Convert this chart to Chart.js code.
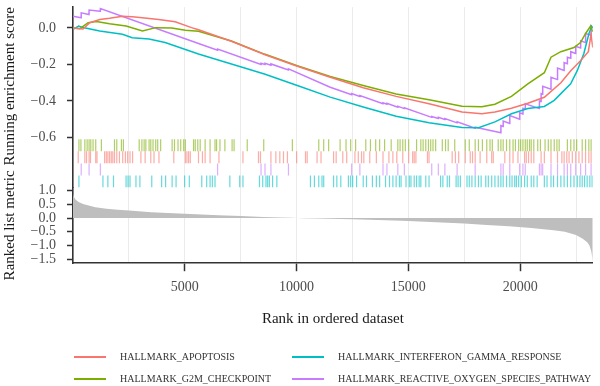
<!DOCTYPE html>
<html>
<head>
<meta charset="utf-8">
<script src="https://cdn.jsdelivr.net/npm/chart.js@4/dist/chart.umd.min.js"></script>
<style>
body { margin: 0; background: #fff; }
#wrap { position: relative; width: 600px; height: 386px; font-family: "Liberation Serif", serif; }
#legend .item { position: absolute; height: 12px; line-height: 12px; display: flex; align-items: center; font-size: 10px; color: #333; white-space: nowrap; }
#legend .swatch { width: 32px; height: 2px; margin-right: 14px; }
</style>
</head>
<body>
<div id="wrap">
<canvas id="gsea" width="600" height="386"></canvas>
<div id="legend"></div>
</div>
<script>
// x range and ticks
const xMax = 23250;
const gridRanks = [2500, 5000, 7500, 10000, 12500, 15000, 17500, 20000, 22500];
const esTicks = [0, -0.2, -0.4, -0.6];
const metricTicks = [1, 0.5, 0, -0.5, -1, -1.5];

// gene sets (alphabetical, like the legend)
const setNames = ["HALLMARK_APOPTOSIS", "HALLMARK_G2M_CHECKPOINT", "HALLMARK_INTERFERON_GAMMA_RESPONSE", "HALLMARK_REACTIVE_OXYGEN_SPECIES_PATHWAY"];
const setColors = ["#F8766D", "#7CAE00", "#00BFC4", "#C77CFF"];
const rugRow = [1, 0, 3, 2];

// running enrichment score
const apoptosisRanks = [0, 450, 750, 1200, 1635, 2210, 2650, 3100, 3830, 4570, 5300, 5613, 7085, 8561, 10033, 11505, 12981, 14453, 15925, 17402, 18286, 18873, 19611, 20345, 21083, 21822, 22264, 22700, 23050, 23170, 23250];
const apoptosisES = [0.0, -0.006, 0.029, 0.047, 0.053, 0.065, 0.061, 0.056, 0.047, 0.034, 0.002, -0.01, -0.073, -0.145, -0.21, -0.27, -0.328, -0.375, -0.415, -0.46, -0.47, -0.46, -0.44, -0.413, -0.38, -0.3, -0.234, -0.18, -0.13, -0.035, -0.107];

const g2mRanks = [0, 310, 676, 1048, 1635, 2374, 3107, 3700, 4420, 5026, 5613, 7085, 8561, 10033, 11505, 12981, 14453, 15925, 17402, 18286, 18873, 19611, 20345, 21083, 21380, 21820, 22409, 22700, 22930, 23150, 23250];
const g2mES = [0.0, -0.004, 0.029, 0.036, 0.023, 0.011, -0.016, 0.002, 0.0, -0.013, -0.018, -0.071, -0.143, -0.207, -0.266, -0.315, -0.362, -0.393, -0.429, -0.432, -0.418, -0.375, -0.306, -0.245, -0.16, -0.13, -0.107, -0.08, -0.03, 0.01, -0.02];

const ifngRanks = [0, 250, 400, 1195, 2210, 2650, 3400, 4120, 5613, 7085, 8561, 10033, 11505, 12981, 14453, 15925, 17402, 18140, 18873, 19611, 20345, 21083, 21525, 21822, 22260, 22555, 22850, 23072, 23200, 23250];
const ifngES = [-0.007, 0.011, 0.004, -0.016, -0.034, -0.053, -0.061, -0.08, -0.143, -0.197, -0.252, -0.315, -0.379, -0.433, -0.484, -0.52, -0.545, -0.547, -0.515, -0.47, -0.442, -0.43, -0.397, -0.36, -0.306, -0.234, -0.14, -0.033, 0.01, 0.0];

const rosRanks = [0, 360, 367, 715, 720, 1215, 1224, 5613, 6467, 6468, 8411, 8412, 8588, 8589, 8853, 8854, 9636, 9637, 11505, 12464, 12465, 12831, 12832, 13866, 13867, 14042, 14043, 14529, 14530, 14821, 14822, 16045, 16046, 16341, 16342, 16633, 16634, 17181, 17182, 17989, 17990, 19139, 19140, 19241, 19242, 19536, 19537, 19978, 19979, 20125, 20126, 20230, 20231, 20862, 20863, 20938, 20939, 21008, 21009, 21380, 21381, 21672, 21673, 21967, 21968, 22113, 22114, 22264, 22265, 22485, 22486, 22706, 22707, 22927, 22928, 23174, 23175, 23250];
const rosES = [0.065, 0.056, 0.083, 0.074, 0.098, 0.092, 0.107, -0.085, -0.122, -0.115, -0.2, -0.193, -0.2, -0.193, -0.204, -0.197, -0.23, -0.224, -0.325, -0.366, -0.36, -0.376, -0.37, -0.415, -0.41, -0.418, -0.413, -0.434, -0.429, -0.442, -0.437, -0.49, -0.485, -0.496, -0.49, -0.502, -0.496, -0.52, -0.514, -0.55, -0.544, -0.574, -0.535, -0.54, -0.51, -0.523, -0.48, -0.5, -0.465, -0.471, -0.44, -0.445, -0.415, -0.442, -0.4, -0.403, -0.36, -0.363, -0.32, -0.336, -0.27, -0.283, -0.22, -0.233, -0.19, -0.196, -0.16, -0.166, -0.13, -0.14, -0.1, -0.11, -0.07, -0.08, -0.03, -0.04, 0.011, 0.0];

// positions of the genes of each set in the ranked list
const apoptosisHits = [234, 530, 606, 720, 782, 1017, 1074, 1414, 1490, 1560, 1635, 1711, 1781, 1856, 1958, 2077, 2223, 2343, 2444, 2550, 2665, 3037, 3227, 3479, 3624, 3845, 4508, 5026, 5096, 5171, 5247, 5613, 5790, 5910, 6131, 6528, 7602, 8296, 8385, 8853, 9074, 9251, 9415, 9591, 10003, 10400, 10475, 10917, 11094, 11656, 11771, 12067, 12243, 12610, 12761, 12906, 13008, 13273, 13569, 13866, 14131, 14308, 14484, 14750, 15015, 15192, 15262, 15337, 15855, 15925, 16960, 17105, 17251, 17547, 17768, 17870, 17989, 18210, 18507, 18728, 18798, 19315, 19536, 19683, 19903, 20199, 20274, 20376, 20496, 20611, 20938, 21083, 21380, 21672, 21866, 21967, 22087, 22188, 22334, 22485, 22630, 22776, 22927, 23072, 23174];
const g2mHits = [265, 354, 530, 632, 720, 796, 897, 1017, 1269, 1856, 1958, 2166, 2254, 2961, 3081, 3182, 3258, 3403, 3479, 3580, 3700, 3788, 3921, 4433, 4539, 4698, 4818, 4950, 5026, 5392, 5468, 5582, 5689, 5910, 6131, 6352, 6422, 6573, 6794, 7116, 7205, 7793, 8531, 9812, 10993, 11214, 11435, 11947, 12212, 12420, 12641, 13096, 13304, 13539, 13715, 13937, 14232, 14529, 14630, 14750, 14865, 15015, 15368, 15558, 15660, 15779, 15899, 16000, 16102, 16221, 16518, 16663, 16783, 17074, 17547, 17724, 17989, 18135, 18312, 18507, 18652, 18755, 19019, 19139, 19241, 19391, 19536, 19683, 19789, 19934, 20023, 20125, 20230, 20319, 20420, 20496, 20611, 20787, 20907, 21115, 21260, 21380, 21525, 21645, 21746, 22113, 22264, 22409, 22529, 22776, 22927, 23072, 23174];
const ifngHits = [265, 1339, 1560, 1812, 2374, 2462, 2550, 2816, 2992, 3523, 3965, 4142, 4433, 4610, 4995, 5202, 5759, 5980, 6131, 6232, 6352, 7015, 7457, 7602, 8341, 8486, 8632, 8707, 8783, 8928, 9118, 10621, 10798, 10993, 11138, 11214, 11656, 11801, 11978, 12319, 12420, 12509, 12685, 12982, 13127, 13393, 13569, 13715, 13980, 14157, 14308, 14453, 14600, 14674, 14895, 15041, 15116, 15262, 15368, 15483, 15558, 15779, 15925, 16442, 16544, 16739, 16840, 17136, 17225, 17326, 17623, 17724, 17843, 17989, 18135, 18255, 18462, 18577, 18728, 18873, 19019, 19139, 19241, 19391, 19536, 19638, 19757, 19832, 19934, 20054, 20199, 20319, 20496, 20611, 20761, 21083, 21203, 21380, 21495, 21672, 21822, 21967, 22113, 22264, 22409, 22555, 22675, 22776, 22883, 22997, 23117, 23219];
const rosHits = [367, 720, 1224, 6467, 8411, 8588, 8853, 9636, 12464, 12831, 13866, 14042, 14529, 14821, 16045, 16341, 16633, 17181, 17989, 19139, 19241, 19536, 19978, 20125, 20230, 20862, 20938, 21008, 21380, 21672, 21967, 22113, 22264, 22485, 22706, 22927, 23174];

// ranked list metric
const metricRanks = [0, 40, 120, 250, 450, 700, 1000, 1500, 2000, 2500, 3500, 5000, 6500, 7500, 8500, 9300, 9800, 10300, 11000, 12500, 14000, 15000, 16500, 17500, 18500, 19500, 20500, 21500, 22000, 22500, 22800, 23000, 23100, 23180, 23230, 23250];
const metricValues = [0.88, 0.76, 0.66, 0.58, 0.51, 0.45, 0.39, 0.34, 0.3, 0.27, 0.21, 0.15, 0.1, 0.07, 0.04, 0.02, 0.005, -0.005, -0.015, -0.045, -0.085, -0.11, -0.16, -0.2, -0.25, -0.3, -0.36, -0.44, -0.5, -0.62, -0.75, -0.88, -1.0, -1.2, -1.45, -1.62];

const esRanks = [apoptosisRanks, g2mRanks, ifngRanks, rosRanks];
const esValues = [apoptosisES, g2mES, ifngES, rosES];
const hits = [apoptosisHits, g2mHits, ifngHits, rosHits];

Chart.defaults.font.family = "'Liberation Serif', serif";
Chart.defaults.font.size = 14;
Chart.defaults.color = "#4D4D4D";

function toPoints(ranks, values) {
    return ranks.map((r, i) => ({ x: r, y: values[i] }));
}

function fmt(v) {
    if (v === 0) return "0.0";
    return (v < 0 ? "\u2212" : "") + Math.abs(v).toFixed(1);
}

function withAlpha(hex, a) {
    const n = parseInt(hex.slice(1), 16);
    return `rgba(${(n >> 16) & 255}, ${(n >> 8) & 255}, ${n & 255}, ${a})`;
}

// fixed width for both left axes, and no extra room for the end labels
function fitLeft(s) {
    s.width = 73;
    s.paddingTop = 0;
    s.paddingBottom = 0;
}

// rug rows live under the ES curves, on the same axis
const rugTop = -0.609;
const rugStep = 0.0665;

const datasets = [];
datasets.push({
    type: "line",
    data: toPoints(metricRanks, metricValues),
    yAxisID: "yMetric",
    fill: "origin",
    backgroundColor: "#BEBEBE",
    borderWidth: 0,
    pointRadius: 0
});
setNames.forEach((name, i) => {
    const yRow = rugTop - (rugRow[i] + 0.5) * rugStep;
    datasets.push({
        type: "scatter",
        data: hits[i].map(r => ({ x: r, y: yRow })),
        yAxisID: "yES",
        pointStyle: "line",
        pointRotation: 90,
        pointRadius: 6,
        pointBorderColor: withAlpha(setColors[i], 0.6),
        borderColor: withAlpha(setColors[i], 0.6),
        pointBorderWidth: 1.2,
        borderWidth: 1.2,
        showLine: false
    });
});
setNames.forEach((name, i) => {
    datasets.push({
        type: "line",
        label: name,
        data: toPoints(esRanks[i], esValues[i]),
        yAxisID: "yES",
        borderColor: setColors[i],
        borderWidth: 1.5,
        pointRadius: 0,
        fill: false,
        tension: 0
    });
});

new Chart(document.getElementById("gsea"), {
    type: "line",
    data: { datasets: datasets },
    options: {
        responsive: false,
        animation: false,
        events: [],
        layout: { padding: { top: -1.5, right: 1, bottom: 54, left: 0 } },
        plugins: { legend: { display: false }, tooltip: { enabled: false } },
        scales: {
            x: {
                type: "linear",
                min: 0,
                max: xMax,
                afterBuildTicks: s => { s.ticks = gridRanks.map(v => ({ value: v })); },
                grid: {
                    color: "#EBEBEB",
                    lineWidth: 1,
                    tickLength: 8,
                    tickWidth: 1.5,
                    tickColor: c => (c.tick && c.tick.value % 5000 === 0) ? "#333" : "rgba(0,0,0,0)"
                },
                border: { color: "#333", width: 1.6 },
                ticks: { autoSkip: false, maxRotation: 0, padding: 7.5, callback: v => v % 5000 === 0 ? String(v) : "" },
                title: { display: true, text: "Rank in ordered dataset", color: "#1a1a1a", font: { size: 15 }, padding: { top: 7, bottom: 4 } }
            },
            // left boxes are placed in reverse order, so the lower panel comes first
            yMetric: {
                type: "linear",
                position: "left",
                stack: "panels",
                stackWeight: 76.3,
                min: -1.64,
                max: 1.104,
                afterBuildTicks: s => { s.ticks = metricTicks.map(v => ({ value: v })); },
                afterFit: fitLeft,
                grid: { drawOnChartArea: false, tickLength: 6, tickColor: "#333", tickWidth: 1.5 },
                border: { color: "#333", width: 1.6 },
                ticks: { autoSkip: false, padding: 11, callback: fmt },
                title: { display: true, text: "Ranked list metric", color: "#1a1a1a", font: { size: 15 }, padding: { top: 1, bottom: 0 } }
            },
            yES: {
                type: "linear",
                position: "left",
                stack: "panels",
                stackWeight: 182,
                min: -0.875,
                max: 0.114,
                afterBuildTicks: s => { s.ticks = esTicks.map(v => ({ value: v })); },
                afterFit: fitLeft,
                grid: { drawOnChartArea: false, tickLength: 6, tickColor: "#333", tickWidth: 1.5 },
                border: { color: "#333", width: 1.6 },
                ticks: { autoSkip: false, padding: 11, callback: fmt },
                title: { display: true, text: "Running enrichment score", align: "end", color: "#1a1a1a", font: { size: 15 }, padding: { top: 1, bottom: 0 } }
            }
        }
    }
});

// legend, two rows filled column by column
const legendBox = document.getElementById("legend");
const legendLeft = [74, 292];
const legendTop = [351, 373];
setNames.forEach((name, i) => {
    const item = document.createElement("div");
    item.className = "item";
    item.style.left = legendLeft[Math.floor(i / 2)] + "px";
    item.style.top = legendTop[i % 2] + "px";
    item.innerHTML = `<span class="swatch" style="background:${setColors[i]}"></span><span>${name}</span>`;
    legendBox.appendChild(item);
});
</script>
</body>
</html>
